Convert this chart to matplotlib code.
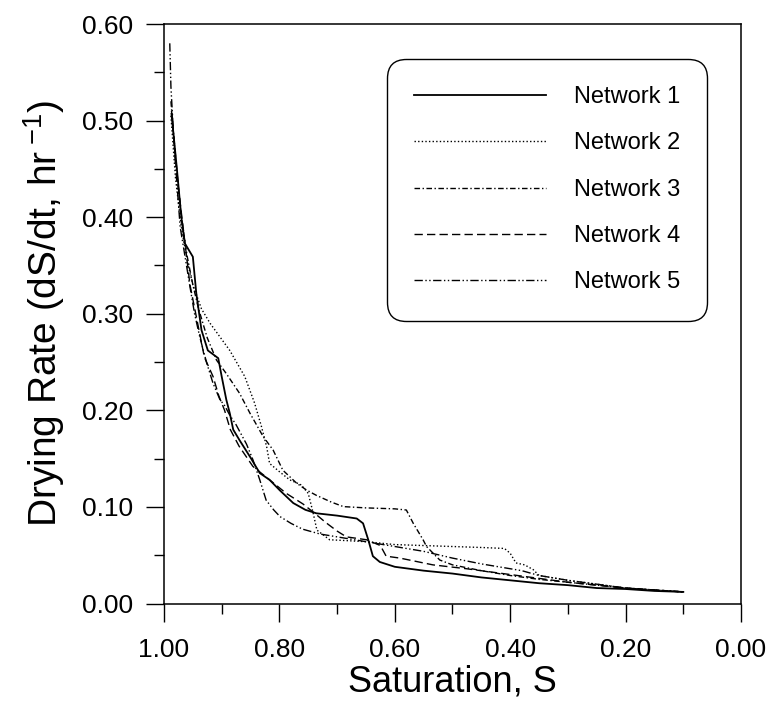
import matplotlib
matplotlib.use("Agg")
import matplotlib.pyplot as plt
from matplotlib.ticker import MultipleLocator, FormatStrFormatter

plt.rcParams['font.family'] = ['Liberation Sans', 'DejaVu Sans']
plt.rcParams['mathtext.default'] = 'regular'

# ---- data ----
s1 = [0.987, 0.978, 0.970, 0.964, 0.950, 0.944, 0.935, 0.924, 0.906, 0.900, 0.892,
      0.886, 0.880, 0.869, 0.851, 0.834, 0.817, 0.799, 0.776, 0.755, 0.736, 0.700,
      0.666, 0.655, 0.646, 0.638, 0.626, 0.600, 0.550, 0.500, 0.450, 0.400, 0.350,
      0.300, 0.250, 0.200, 0.150, 0.100]
r1 = [0.507, 0.452, 0.400, 0.373, 0.359, 0.321, 0.283, 0.262, 0.254, 0.235, 0.211,
      0.197, 0.180, 0.169, 0.152, 0.135, 0.128, 0.117, 0.104, 0.097, 0.0934, 0.091,
      0.088, 0.083, 0.066, 0.049, 0.043, 0.038, 0.034, 0.031, 0.027, 0.024, 0.021,
      0.019, 0.016, 0.015, 0.013, 0.012]

s2 = [0.988, 0.980, 0.970, 0.960, 0.950, 0.935, 0.920, 0.886, 0.860, 0.843, 0.831,
      0.822, 0.817, 0.799, 0.782, 0.762, 0.750, 0.742, 0.735, 0.713, 0.680, 0.650,
      0.600, 0.550, 0.500, 0.450, 0.410, 0.400, 0.390, 0.375, 0.360, 0.350, 0.300,
      0.250, 0.200, 0.150, 0.100]
r2 = [0.505, 0.440, 0.390, 0.355, 0.330, 0.305, 0.290, 0.262, 0.235, 0.2075, 0.183,
      0.162, 0.145, 0.136, 0.128, 0.1227, 0.114, 0.095, 0.076, 0.066, 0.065, 0.064,
      0.061, 0.060, 0.059, 0.058, 0.057, 0.052, 0.042, 0.040, 0.035, 0.029, 0.024,
      0.020, 0.016, 0.014, 0.012]

s3 = [0.988, 0.980, 0.970, 0.960, 0.950, 0.940, 0.925, 0.909, 0.892, 0.869, 0.851,
      0.828, 0.811, 0.794, 0.770, 0.753, 0.736, 0.710, 0.689, 0.650, 0.600, 0.580,
      0.568, 0.551, 0.545, 0.5335, 0.522, 0.500, 0.450, 0.400, 0.350, 0.300, 0.250,
      0.200, 0.150, 0.100]
r3 = [0.520, 0.460, 0.400, 0.360, 0.330, 0.305, 0.275, 0.252, 0.238, 0.2176, 0.197,
      0.1727, 0.159, 0.138, 0.1245, 0.1175, 0.112, 0.105, 0.1003, 0.099, 0.098, 0.0968,
      0.083, 0.066, 0.059, 0.052, 0.045, 0.040, 0.034, 0.029, 0.025, 0.022, 0.019,
      0.016, 0.014, 0.012]

s4 = [0.987, 0.975, 0.965, 0.955, 0.940, 0.930, 0.915, 0.905, 0.895, 0.885, 0.870,
      0.846, 0.817, 0.788, 0.759, 0.736, 0.720, 0.700, 0.684, 0.649, 0.625, 0.615,
      0.591, 0.534, 0.476, 0.400, 0.350, 0.300, 0.250, 0.200, 0.150, 0.100]
r4 = [0.510, 0.430, 0.380, 0.330, 0.285, 0.255, 0.235, 0.215, 0.200, 0.180, 0.163,
      0.142, 0.128, 0.114, 0.103, 0.092, 0.084, 0.075, 0.069, 0.066, 0.060, 0.049,
      0.047, 0.040, 0.036, 0.030, 0.026, 0.022, 0.019, 0.016, 0.014, 0.012]

s5 = [0.990, 0.988, 0.982, 0.972, 0.955, 0.947, 0.938, 0.926, 0.915, 0.903, 0.895,
      0.886, 0.875, 0.857, 0.846, 0.834, 0.823, 0.810, 0.799, 0.780, 0.760, 0.730,
      0.700, 0.650, 0.600, 0.550, 0.500, 0.450, 0.410, 0.380, 0.350, 0.300, 0.250,
      0.200, 0.150, 0.100]
r5 = [0.580, 0.535, 0.470, 0.390, 0.328, 0.300, 0.276, 0.249, 0.228, 0.211, 0.205,
      0.195, 0.185, 0.165, 0.149, 0.128, 0.107, 0.097, 0.090, 0.083, 0.077, 0.072,
      0.069, 0.064, 0.059, 0.054, 0.047, 0.041, 0.037, 0.034, 0.029, 0.024, 0.020,
      0.016, 0.014, 0.012]

labels = ["Network 1", "Network 2", "Network 3", "Network 4", "Network 5"]
xticks = [1.00, 0.80, 0.60, 0.40, 0.20, 0.00]
yticks = [0.00, 0.10, 0.20, 0.30, 0.40, 0.50, 0.60]

# ---- figure ----
fig = plt.figure(figsize=(7.73, 7.05), dpi=100)
ax = fig.add_axes([164 / 773, (705 - 603.5) / 705, (741 - 164) / 773, (603.5 - 24) / 705])

styles = [
    dict(linestyle='-', lw=1.3),
    dict(linestyle=(0, (1, 1.6)), lw=1.0),
    dict(linestyle=(0, (4, 1.8, 1, 1.8)), lw=1.0),
    dict(linestyle=(0, (6, 3)), lw=1.0),
    dict(linestyle=(0, (6, 1.8, 1, 1.8, 1, 1.8)), lw=1.0),
]
series = [(s1, r1), (s2, r2), (s3, r3), (s4, r4), (s5, r5)]
for (s, r), st, lab in zip(series, styles, labels):
    ax.plot(s, r, color='black', label=lab, **st)

ax.set_xlim(1.0, 0.0)
ax.set_ylim(0.0, 0.6)
ax.set_xticks(xticks)
ax.set_yticks(yticks)
ax.xaxis.set_minor_locator(MultipleLocator(0.1))
ax.yaxis.set_minor_locator(MultipleLocator(0.05))
ax.xaxis.set_major_formatter(FormatStrFormatter('%.2f'))
ax.yaxis.set_major_formatter(FormatStrFormatter('%.2f'))
ax.tick_params(which='major', direction='out', length=13, width=1.0, labelsize=19)
ax.tick_params(axis='x', which='major', pad=12)
ax.tick_params(axis='y', which='major', pad=9)
ax.tick_params(which='minor', direction='out', length=7, width=1.0)
ax.tick_params(top=False, right=False, which='both')
for sp in ax.spines.values():
    sp.set_linewidth(1.1)

ax.set_xlabel('Saturation, S', fontsize=26, labelpad=2)
ax.set_ylabel('Drying Rate (dS/dt, hr$\\,^{-1}$)', fontsize=28, labelpad=11)

leg = ax.legend(loc='upper left', bbox_to_anchor=(387 / 773, 1 - 59 / 705),
                bbox_transform=fig.transFigure, borderaxespad=0,
                fontsize=17, handlelength=5.6, handletextpad=1.15,
                labelspacing=1.03, borderpad=1.15, fancybox=True, framealpha=1)
fr = leg.get_frame()
fr.set_edgecolor('black')
fr.set_linewidth(1.0)
fr.set_boxstyle('round,pad=0,rounding_size=0.8')

fig.savefig('out.png', dpi=100)
